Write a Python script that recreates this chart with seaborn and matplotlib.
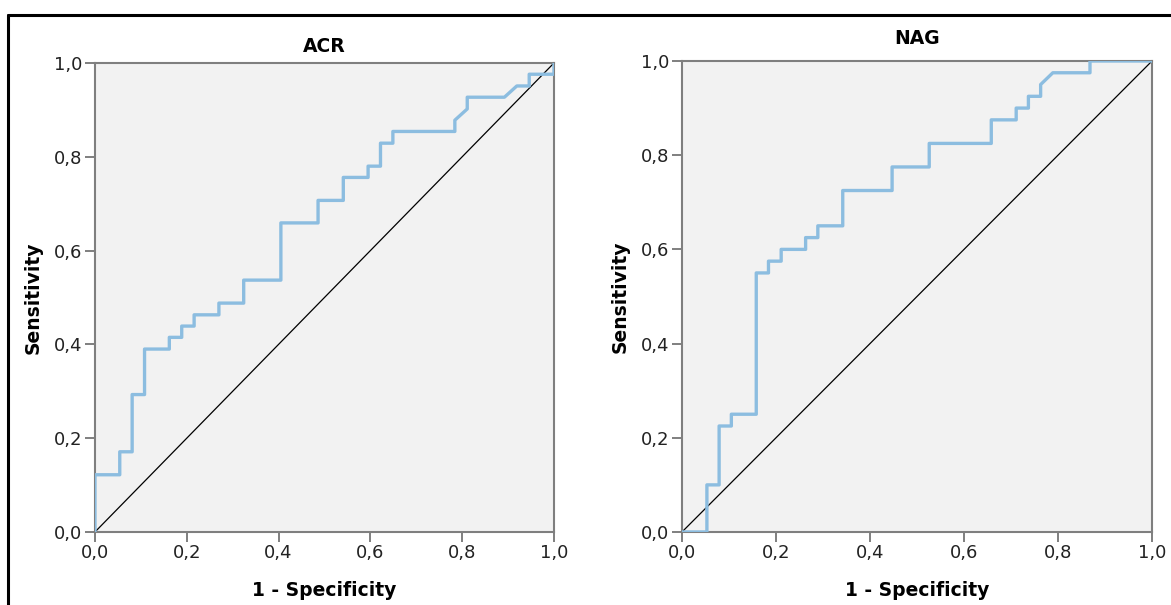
import numpy as np
import pandas as pd
import matplotlib
matplotlib.use("Agg")
import matplotlib.pyplot as plt
import seaborn as sns
from matplotlib.ticker import FuncFormatter

# ROC-Kurven, Werte
acr_fpr = [0.0, 0.0, 0.054, 0.054, 0.081, 0.081, 0.108, 0.108, 0.162, 0.162, 0.189, 0.189,
           0.216, 0.216, 0.270, 0.270, 0.324, 0.324, 0.405, 0.405, 0.486, 0.486, 0.541, 0.541,
           0.595, 0.595, 0.622, 0.622, 0.649, 0.649, 0.784, 0.784, 0.811, 0.811, 0.892, 0.919,
           0.946, 0.946, 1.0, 1.0]
acr_tpr = [0.0, 0.122, 0.122, 0.171, 0.171, 0.293, 0.293, 0.390, 0.390, 0.415, 0.415, 0.439,
           0.439, 0.463, 0.463, 0.488, 0.488, 0.537, 0.537, 0.659, 0.659, 0.707, 0.707, 0.756,
           0.756, 0.780, 0.780, 0.829, 0.829, 0.854, 0.854, 0.878, 0.902, 0.927, 0.927, 0.951,
           0.951, 0.976, 0.976, 1.0]

nag_fpr = [0.0, 0.053, 0.053, 0.079, 0.079, 0.105, 0.105, 0.158, 0.158, 0.184, 0.184, 0.211,
           0.211, 0.263, 0.263, 0.289, 0.289, 0.342, 0.342, 0.447, 0.447, 0.526, 0.526, 0.658,
           0.658, 0.711, 0.711, 0.737, 0.737, 0.763, 0.763, 0.789, 0.868, 0.868, 1.0]
nag_tpr = [0.0, 0.0, 0.100, 0.100, 0.225, 0.225, 0.250, 0.250, 0.550, 0.550, 0.575, 0.575,
           0.600, 0.600, 0.625, 0.625, 0.650, 0.650, 0.725, 0.725, 0.775, 0.775, 0.825, 0.825,
           0.875, 0.875, 0.900, 0.900, 0.925, 0.925, 0.950, 0.975, 0.975, 1.0, 1.0]

ticks = [0.0, 0.2, 0.4, 0.6, 0.8, 1.0]

sns.set_theme(style="white")
plt.rcParams["font.family"] = ["DejaVu Sans"]

fig = plt.figure(figsize=(11.71, 6.05), dpi=100)

# Rahmen oben und links
fig.add_artist(plt.Line2D([0.0065, 1.0], [0.975, 0.975], color="black", lw=2.2, transform=fig.transFigure))
fig.add_artist(plt.Line2D([0.0068, 0.0068], [0.0, 0.975], color="black", lw=2.2, transform=fig.transFigure))

panels = [
    ("ACR", acr_fpr, acr_tpr, [0.0811, 0.1207, 0.392, 0.7752], 8),
    ("NAG", nag_fpr, nag_tpr, [0.5824, 0.1207, 0.4014, 0.7785], 12),
]

komma = FuncFormatter(lambda v, p: f"{v:.1f}".replace(".", ","))
grau = "#7f7f7f"

for titel, fpr, tpr, pos, tpad in panels:
    ax = fig.add_axes(pos)
    ax.set_facecolor("#f2f2f2")
    df = pd.DataFrame({"fpr": fpr, "tpr": tpr})
    ax.plot([0, 1], [0, 1], color="black", lw=0.9, zorder=2)
    sns.lineplot(data=df, x="fpr", y="tpr", sort=False, estimator=None,
                 color="#8cbde0", lw=2.4, ax=ax, zorder=3)
    ax.set_xlim(0, 1)
    ax.set_ylim(0, 1)
    ax.set_xticks(ticks)
    ax.set_yticks(ticks)
    ax.xaxis.set_major_formatter(komma)
    ax.yaxis.set_major_formatter(komma)
    ax.tick_params(axis="both", which="major", direction="out", length=7, width=1.4,
                   color=grau, labelsize=13, labelcolor="#222222", pad=2,
                   bottom=True, left=True)
    for s in ax.spines.values():
        s.set_color(grau)
        s.set_linewidth(1.5)
    ax.set_title(titel, fontsize=13.5, fontweight="bold", pad=tpad, color="black")
    ax.set_xlabel("1 - Specificity", fontsize=13.5, fontweight="bold", labelpad=13, color="black")
    ax.set_ylabel("Sensitivity", fontsize=13.5, fontweight="bold", labelpad=8, color="black")

fig.savefig("out.png", dpi=100)
